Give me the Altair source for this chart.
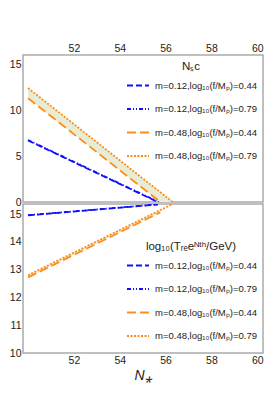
import altair as alt
import pandas as pd

series = [
    "m=0.12,log₁₀(f/Mₚ)=0.44",
    "m=0.12,log₁₀(f/Mₚ)=0.79",
    "m=0.48,log₁₀(f/Mₚ)=0.44",
    "m=0.48,log₁₀(f/Mₚ)=0.79",
]
colors = ["#1010ff", "#1010ff", "#ff8c1a", "#ff8c1a"]
dashes = [[6, 3], [4, 2, 1, 2, 1, 2], [9, 4], [2, 1.5]]

# end points of each (straight) curve
n_start = [50.0, 50.0, 50.0, 50.0]
n_end = [55.66, 55.70, 55.77, 56.31]
nsc_start = [6.70, 6.75, 11.30, 12.40]
nsc_end = [0.0, 0.0, 0.0, 0.0]
trh_start = [14.95, 14.96, 12.72, 12.80]
trh_end = [15.34, 15.35, 15.06, 15.36]

# shaded band between the two orange curves
band_top_n = [50.0, 55.77, 56.31]
band_top_lo = [11.30, 0.0, 0.0]
band_top_hi = [12.40, 1.06, 0.0]
band_bot_n = [50.0, 55.77]
band_bot_lo = [12.72, 15.06]
band_bot_hi = [12.80, 15.14]

x_ticks = [52, 54, 56, 58, 60]

rows = []
for i, s in enumerate(series):
    rows.append({"series": s, "order": 0, "N": n_start[i], "nsc": nsc_start[i], "trh": trh_start[i]})
    rows.append({"series": s, "order": 1, "N": n_end[i], "nsc": nsc_end[i], "trh": trh_end[i]})
lines = pd.DataFrame(rows)
band_top = pd.DataFrame({"N": band_top_n, "lo": band_top_lo, "hi": band_top_hi})
band_bot = pd.DataFrame({"N": band_bot_n, "lo": band_bot_lo, "hi": band_bot_hi})

X_DOM = [49.78, 60.25]
W = 240
FONT = "Liberation Sans"


def legend(title, ly):
    return alt.Legend(
        title=title, orient="none", legendX=103, legendY=ly,
        symbolType="stroke", symbolSize=484, symbolStrokeWidth=2,
        labelFontSize=9.5, labelFont=FONT, labelColor="#222", labelLimit=220,
        labelOffset=5, titleFontSize=11.5, titleFont=FONT, titleColor="#222",
        titleFontWeight="normal", titleAnchor="middle", titlePadding=1,
        rowPadding=6.5, padding=0,
    )


def panel(field, ydom, yvals, band, height, xaxis, leg):
    xs = alt.Scale(domain=X_DOM, nice=False, zero=False)
    ys = alt.Scale(domain=ydom, nice=False, zero=False)
    yaxis = alt.Axis(values=yvals, title=None)
    area = alt.Chart(band).mark_area(color="#e6edd4", clip=True).encode(
        x=alt.X("N:Q", scale=xs, axis=xaxis),
        y=alt.Y("lo:Q", scale=ys, axis=yaxis),
        y2="hi:Q",
    )
    ln = alt.Chart(lines).mark_line(strokeWidth=1.8, clip=True).encode(
        x=alt.X("N:Q", scale=xs, axis=xaxis),
        y=alt.Y(f"{field}:Q", scale=ys, axis=yaxis),
        color=alt.Color("series:N", scale=alt.Scale(domain=series, range=colors), legend=leg),
        strokeDash=alt.StrokeDash("series:N", scale=alt.Scale(domain=series, range=dashes), legend=leg),
        order="order:Q",
    )
    return alt.layer(area, ln).properties(width=W, height=height)


top = panel(
    "nsc", [0, 16], [0, 5, 10, 15], band_top, 147,
    alt.Axis(orient="top", values=x_ticks, title=None),
    legend("Nₛc", 6),
)
bottom = panel(
    "trh", [10, 15.36], [10, 11, 12, 13, 14, 15], band_bot, 149,
    alt.Axis(orient="bottom", values=x_ticks, title="N⁎", titleFontSize=14,
             titleFontStyle="italic", titleFontWeight="normal", titlePadding=3),
    legend("log₁₀(Tᵣₑeᴺᵗʰ/GeV)", 37),
)

chart = (
    alt.vconcat(top, bottom, spacing=2, bounds="flush")
    .resolve_scale(color="independent", strokeDash="independent")
    .resolve_legend(color="independent", strokeDash="independent")
    .configure_view(stroke="#aaaaaa", strokeWidth=1.5)
    .configure_axis(
        grid=False, ticks=False, domain=False, labelPadding=2,
        labelFont=FONT, labelFontSize=10.5, labelColor="#222",
        titleFont=FONT, titleColor="#222",
    )
    .properties(padding={"top": 34, "left": 0, "right": 0, "bottom": 0})
)

chart.save("out.html", embed_options={"renderer": "svg", "actions": False})
